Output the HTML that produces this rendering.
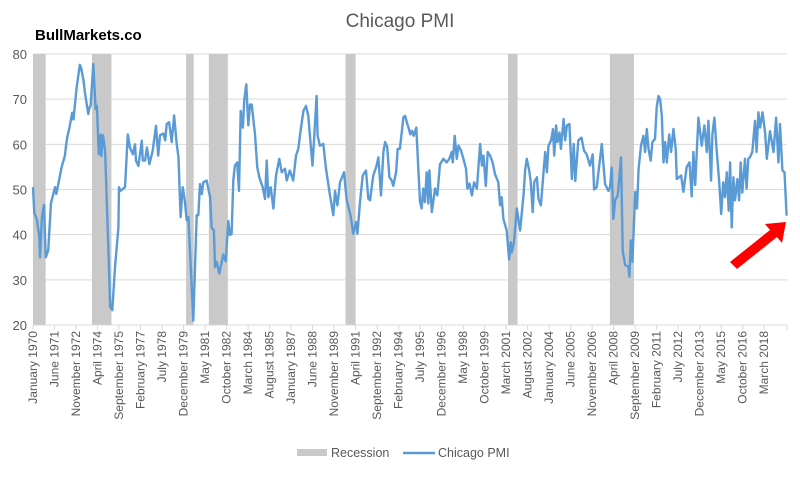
<!DOCTYPE html>
<html><head><meta charset="utf-8"><style>
body{margin:0;background:#fff;width:800px;height:472px;overflow:hidden;font-family:"Liberation Sans",sans-serif}
svg text{font-family:"Liberation Sans",sans-serif}
</style></head><body>
<svg id="chart" width="800" height="472" xmlns="http://www.w3.org/2000/svg">
<text x="400" y="27" text-anchor="middle" font-size="19" fill="#595959">Chicago PMI</text>
<text x="35" y="40" font-size="15" font-weight="bold" fill="#000">BullMarkets.co</text>
<g id="grid"></g><g id="rec"></g><g id="yax"></g><g id="xax"></g><g id="series"></g>
<g>
<rect x="297" y="449" width="30" height="7" fill="#c9c9c9"/>
<text x="331" y="457" font-size="12.5" fill="#595959">Recession</text>
<line x1="403" y1="453" x2="435" y2="453" stroke="#5b9bd5" stroke-width="2.5"/>
<text x="438" y="457" font-size="12.5" fill="#595959">Chicago PMI</text>
</g>
<polygon points="730,262 770,230 765,224 786,222 782,243 777,237 737,269" fill="#ff0000"/>
</svg>
<script>
const yTicks=[20,30,40,50,60,70,80];
const recStart=[0,46.6,121,139,247,375.5,456];
const recEnd=[10,62,127,154,255,383,475];
const months=[0,1,3,5,5.5,7,8.7,10,12,14.2,17.4,18.4,22.7,25.3,26,27,29,31,32,34.5,37,38,40,41,43.7,44.5,45.5,47.7,49.5,50.5,52,53.5,54,55.3,57,59.5,61,62.7,64.8,67.5,68,69,72.7,74.9,76.6,79,80.6,81.4,83.3,86,86.8,88.6,90,92,94.6,97.2,99,100.4,103,104.5,105.7,107.6,109.6,111.5,113.6,115,116.7,118.3,120,121.5,122.8,126.7,129.4,130.7,132,133.4,134.6,137.2,140,141.2,143,143.9,145.2,147.3,149.2,150.4,152.3,154.4,155.7,157,158.3,159.6,161.4,162.8,164.2,165.9,167,168.6,170.2,171.5,172.9,175.5,177.3,178.9,181.6,183.4,184.7,186,187.9,190,192.1,194.7,196.6,199.2,200.5,203,205.7,207.9,209.7,211,213.7,215.8,217.6,219,220.9,224.2,225,226.8,229.5,231.6,234.8,237.4,238.7,240.6,242.7,245.8,248,251,253.2,255.3,256.4,258.5,260.6,263.2,265,266.4,269,271.6,273,275.1,277,278.3,280,281.7,283.5,284.8,287,288.3,290,292.8,294.2,295.5,296.8,298.2,299.5,300.9,303,304.6,305.9,307.2,308.5,309.8,311.2,312.5,313.3,315.2,317.8,319.6,321.7,324.4,327,329.1,331,331.8,333.3,335,336.3,338.4,340.2,342.3,343.4,345,346.9,348.7,350.9,353.4,354.8,356.1,357.9,359.4,361.3,363.3,365.2,367.8,369.2,370.5,371.8,374.4,376.3,377.6,378.4,380.2,382.4,385,387.7,389,390.3,392.2,393.5,395,396.2,398.3,399.6,401.5,403.5,404.9,406.2,407.5,409.5,411,412,413.5,414.6,416.2,417.3,419.4,420.7,422,424,426,427.4,428.7,431,433.6,435.5,437.6,440.3,442.4,443.5,445.6,447.7,449.6,450.9,452.2,454.8,456.1,457.4,458.8,460.1,462.2,463.3,464.8,466.1,468,470.6,471.4,472.5,473.8,476,477.4,478.7,480.6,482.5,483.8,485.2,486.5,488.3,489.6,491.7,493,494.4,495.7,497,498.4,499.7,501,502.9,504.4,506.2,508,508.9,512.3,514.1,516.7,518.9,520.7,522,523.4,526,528.6,530.7,532.6,533.9,536,537,538.6,540.4,542.3,544,545.6,547,548.4,549.9,551,552.3,553.6,554.9,556.8,558.1,559.4,560.7,562.8,564.1,565.4,566.7,568.6,570.7,572,573.4,574.7,576.6,578.7,580,582.6,585.3,587.4,589.2,590.5,592.4,594,595.7];
const values=[50.5,44.8,43.4,39.6,35,43.8,46.6,35,36.5,47,50.5,49,55,57.6,59.5,61.5,64,67,65.5,72.5,77.6,77,74,71.5,66.7,68,68.5,77.8,67.8,68.5,57.8,62.2,57.4,62,58.6,37.3,24,23.3,32.8,41.6,50.5,49.7,50.5,62.2,59.3,57.8,60,56.4,55.2,60.8,56.4,56.4,59.3,55.6,58.6,64.1,57.5,62,62.4,60.9,64.5,64.9,60.5,66.4,60.1,57.1,43.9,50.5,47.6,43.2,43.9,21,44.3,44.3,51.2,49,51.6,52,48.3,41.6,40.9,32.8,34,31.4,34,35.6,34.1,43,39.9,40.2,52,55.3,56,49.7,67.4,63.7,70,73.3,64.2,68.8,68.8,62.2,54.9,52.7,50.5,47.9,56.4,48.3,50.5,45.8,53.1,56.8,53.8,54.6,52,54.2,52,57.5,59,61.9,67.4,68.5,66.3,61.5,55.3,70.7,61.9,59.7,60.1,54.6,48.7,44.3,49.7,46.5,51.6,53.8,47.6,44.3,40.2,42.8,40.2,47.2,53.1,54.2,48,47.6,53.1,55.3,57.1,48.7,58.3,60.5,59.4,52.7,52,50.8,53.8,59,59,66,66.3,64.9,63.7,62.2,63,61.9,63.7,54.6,47.3,45.8,50.2,47.2,53.8,46.9,54.2,45,50.2,48.7,55.6,56.8,56,56.8,58.3,56,61.9,56.8,59.7,58.6,56.8,54.6,50.2,51.3,48.7,51.6,50.2,60.1,55.3,57.5,50.8,58.3,57.5,56,53.4,51.6,46.5,48.3,43.5,40.9,34.5,38.3,36.1,38.3,45.8,40.9,48.7,54.2,56.8,54.2,51.6,45,51.6,52.7,47.9,46.5,53.8,58.3,53.8,59.7,60.9,63.4,57.5,64.2,60.5,62.6,59,65.6,60.9,64.2,64.5,52.3,60.1,51.9,60.9,61.5,58.6,57.8,55.3,57.8,50,50.5,55.6,60.1,55.6,51.2,49.7,50.5,54.9,43.5,47.6,48.7,52,57.1,36.5,33.3,32.9,30.7,38.7,34,49.5,45.8,54.6,59.7,61.9,58.3,63.4,59,56.4,60.5,61.2,68.2,70.7,70,66.4,56,60.5,56,62.2,58.3,63.4,59,52.3,53.1,49.5,55,56,48.5,58.3,51,65.9,59.7,64.2,58.3,65.2,52,62.2,65.9,58.6,52,44.6,51.6,48.3,53.8,45.3,56,41.6,52.7,47.6,52.3,47.6,56,49.3,56.8,50.2,56.8,57.1,58.3,65.2,58.3,67.1,63.7,67.1,62.6,56.8,62.9,58.3,65.9,56,64.5,54.2,53.8,44.2];
const N=596;
const X0=33,X1=787,Y0=325,Y1=54;
const xs=m=>X0+m*(X1-X0)/N;
const ys=v=>Y0-(v-20)*(Y0-Y1)/60;
const NS="http://www.w3.org/2000/svg";
function mk(tag,attrs,parent,txt){const e=document.createElementNS(NS,tag);for(const k in attrs)e.setAttribute(k,attrs[k]);if(txt!==undefined)e.textContent=txt;document.getElementById(parent).appendChild(e);return e;}
yTicks.forEach(t=>{
 const g=mk('line',{x1:X0,x2:X1,y1:ys(t),y2:ys(t),stroke:'#d9d9d9','stroke-width':1},'grid');
 
 
 const l=mk('text',{x:27,y:ys(t)+5,'text-anchor':'end','font-size':13,fill:'#595959'},'yax',String(t));
 
 
});
recStart.forEach((s,i)=>{
 const r=mk('rect',{x:xs(s),y:Y1,width:xs(recEnd[i])-xs(s),height:Y0-Y1,fill:'#c9c9c9'},'rec');
 
 
});
const ax=mk('line',{x1:X0,x2:X1,y1:Y0,y2:Y0,stroke:'#d9d9d9','stroke-width':1},'xax');


const MN=['January','February','March','April','May','June','July','August','September','October','November','December'];
for(let m=0;m<=578;m+=17){
 const x=xs(m);
 const t=mk('line',{x1:x,x2:x,y1:Y0,y2:Y0+5,stroke:'#d9d9d9'},'xax');
 
 
 const lab=MN[m%12]+' '+(1970+Math.floor(m/12));
 const tx=mk('text',{x:0,y:0,'text-anchor':'end','font-size':12,fill:'#595959',transform:`translate(${x+4},${Y0+6}) rotate(-90)`},'xax',lab);
 
 
}
const t2=mk('line',{x1:X1,x2:X1,y1:Y0,y2:Y0+5,stroke:'#d9d9d9'},'xax');


const pts=months.map((m,i)=>xs(m).toFixed(1)+','+ys(values[i]).toFixed(1)).join(' ');
const pl=mk('polyline',{points:pts,fill:'none',stroke:'#5b9bd5','stroke-width':2.4,'stroke-linejoin':'round'},'series');


</script>
</body></html>
